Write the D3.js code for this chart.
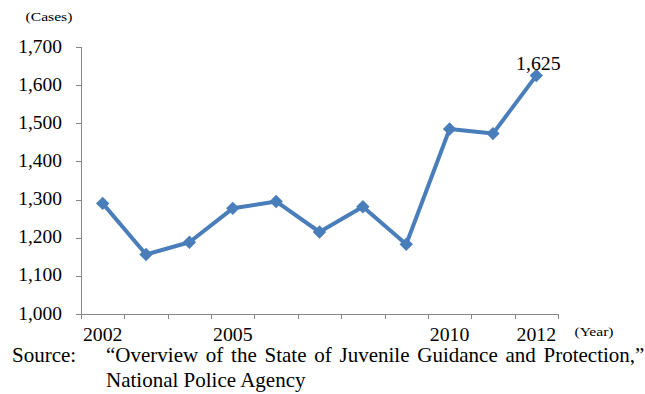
<!DOCTYPE html>
<html>
<head>
<meta charset="utf-8">
<script src="https://cdn.jsdelivr.net/npm/d3@7"></script>
<style>
  body { margin: 0; background: #fff; }
  text { font-family: "Liberation Serif", "Times New Roman", serif; fill: #000; }
</style>
</head>
<body>
<script>
// data
const years = [2002, 2003, 2004, 2005, 2006, 2007, 2008, 2009, 2010, 2011, 2012];
const cases = [1290, 1156, 1188, 1277, 1295, 1215, 1281, 1183, 1485, 1473, 1625];
const yTicks = [1000, 1100, 1200, 1300, 1400, 1500, 1600, 1700];
const xLabelYears = [2002, 2005, 2010, 2012];
const sourceLines = [
  "\u201COverview of the State of Juvenile Guidance and Protection,\u201D",
  "National Police Agency"
];

const W = 645, H = 394;
const blue = "#4a7ebb", axisGray = "#868686";

const svg = d3.select("body").append("svg")
  .attr("width", W)
  .attr("height", H);

const x = d3.scaleBand().domain(years).range([81, 558]).padding(0);
const y = d3.scaleLinear().domain([1000, 1700]).range([314, 47]);
const fmt = d3.format(",");

// text in the picture is a bit wider than plain Times, so stretch it sideways
function stretchedText(g, tx, ty, str, size, anchor, sx) {
  return g.append("text")
    .attr("transform", `translate(${tx},${ty}) scale(${sx},1)`)
    .attr("text-anchor", anchor)
    .style("font-size", size + "px")
    .text(str);
}

// y axis
svg.append("line")
  .attr("x1", 81.5).attr("x2", 81.5)
  .attr("y1", y(1700)).attr("y2", y(1000))
  .attr("stroke", axisGray);
svg.selectAll(".ytick")
  .data(yTicks)
  .enter()
  .append("line")
  .attr("x1", 76).attr("x2", 81)
  .attr("y1", d => Math.round(y(d)) + 0.5)
  .attr("y2", d => Math.round(y(d)) + 0.5)
  .attr("stroke", axisGray);
yTicks.forEach(d => {
  stretchedText(svg, 62, y(d) + 5.5, fmt(d), 18, "end", 1.08);
});
stretchedText(svg, 49, 21, "(Cases)", 12.5, "middle", 1.25);

// x axis
svg.append("line")
  .attr("x1", 81).attr("x2", 558)
  .attr("y1", 314.5).attr("y2", 314.5)
  .attr("stroke", axisGray);
const bounds = years.map(d => x(d)).concat([x(years[years.length - 1]) + x.bandwidth()]);
svg.selectAll(".xtick")
  .data(bounds)
  .enter()
  .append("line")
  .attr("x1", d => Math.round(d) + 0.5)
  .attr("x2", d => Math.round(d) + 0.5)
  .attr("y1", 314).attr("y2", 319)
  .attr("stroke", axisGray);
xLabelYears.forEach(d => {
  stretchedText(svg, x(d) + x.bandwidth() / 2, 341, String(d), 18, "middle", 1.1);
});
stretchedText(svg, 594, 336, "(Year)", 12.5, "middle", 1.25);

// line + markers
const cx = d => x(d) + x.bandwidth() / 2;
const pts = years.map((d, i) => [cx(d), y(cases[i])]);

svg.append("path")
  .attr("d", d3.line()(pts))
  .attr("fill", "none")
  .attr("stroke", blue)
  .attr("stroke-width", 4)
  .attr("stroke-linejoin", "round");

svg.selectAll(".marker")
  .data(pts)
  .enter()
  .append("path")
  .attr("d", d3.symbol().type(d3.symbolSquare).size(90))
  .attr("transform", d => `translate(${d[0]},${d[1]}) rotate(45)`)
  .attr("fill", blue);

// value label on last point
const last = years.length - 1;
stretchedText(svg, cx(years[last]) + 2, y(cases[last]) - 6, fmt(cases[last]), 18, "middle", 1.1);

// source note
stretchedText(svg, 12, 362, "Source:", 21, "start", 1);
sourceLines.forEach((s, i) => {
  stretchedText(svg, 106, 362 + i * 25, s, 21, "start", 1)
    .style("word-spacing", i === 0 ? "2.5px" : null);
});
</script>
</body>
</html>
